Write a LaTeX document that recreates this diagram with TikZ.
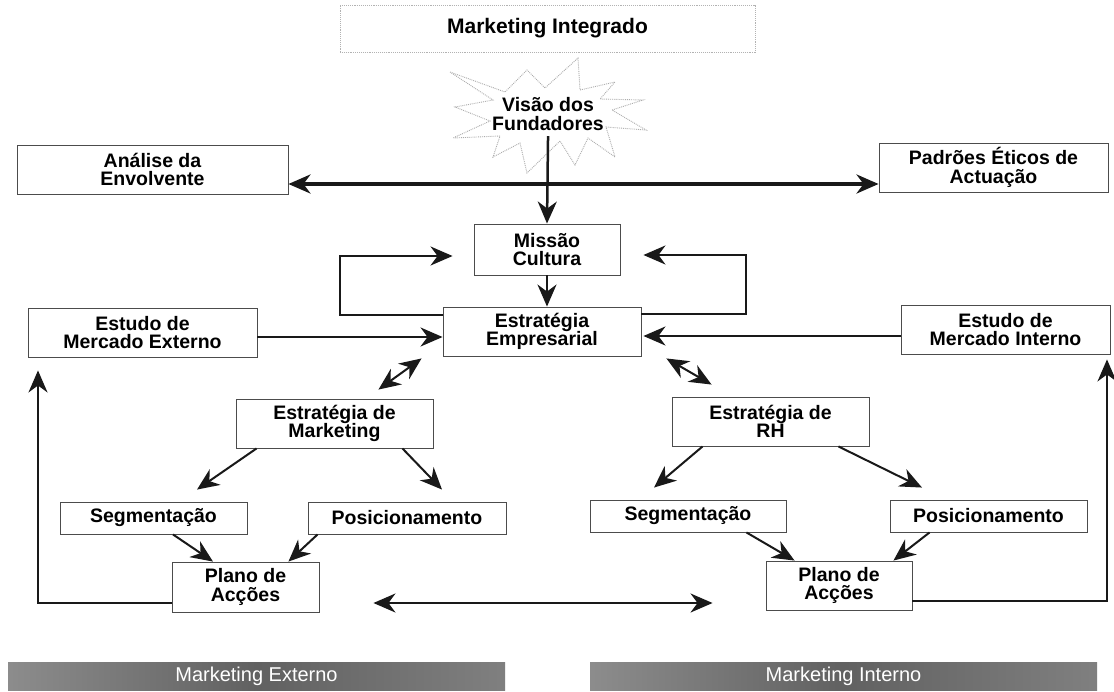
\documentclass[tikz,border=0pt]{standalone}
\usepackage{fontspec}
\setmainfont{Liberation Sans}
\usetikzlibrary{arrows.meta,calc}
\begin{document}
\begin{tikzpicture}[x=1pt,y=-1pt,
  bigtip/.tip={Stealth[length=22pt,width=19pt,inset=7pt]},
  box/.style={draw=black!70, line width=0.9pt, fill=white, inner sep=0pt,
    align=center, font=\bfseries\fontsize{19.5}{18.5}\selectfont},
  conn/.style={draw=black!90, line width=2pt, -bigtip},
  dconn/.style={draw=black!90, line width=2pt, bigtip-bigtip},
  banner/.style={inner sep=0pt, minimum height=28, text=white,
    font=\fontsize{20}{20}\selectfont,
    left color=black!45, right color=black!50, middle color=black!62}
]
\useasboundingbox[fill=white] (0,0) rectangle (1114,691);

% heading
\node[draw=gray!60, densely dotted, line width=0.9pt, minimum width=415,
  minimum height=47, inner sep=0pt, font=\bfseries\fontsize{21}{21}\selectfont]
  (title) at (547.5,28.5) {Marketing Integrado};

% starburst around the founders' vision
\draw[gray!65, densely dotted, line width=0.9pt]
  (450,72) -- (505,92) -- (527,70) -- (545,88) -- (578,58) -- (580,90)
  -- (615,82) -- (600,99) -- (643,100) -- (612,110) -- (646,130)
  -- (606,127) -- (615,157) -- (588,138) -- (575,165) -- (560,141)
  -- (527,173) -- (520,143) -- (493,157) -- (500,136) -- (453,138)
  -- (490,121) -- (455,107) -- (493,100) -- cycle;
\node[inner sep=0pt, minimum height=52, align=center,
  font=\bfseries\fontsize{19.5}{18.5}\selectfont] (vis) at (548,114)
  {Visão dos\\Fundadores};

% boxes
\node[box, minimum width=271, minimum height=49] (ana) at (152.5,169.5) {Análise da\\Envolvente};
\node[box, minimum width=229, minimum height=49] (pad) at (993.5,167.5) {Padrões Éticos de\\Actuação};
\node[box, minimum width=146, minimum height=51] (mis) at (547,249.5) {Missão\\Cultura};
\node[box, minimum width=198, minimum height=49] (emp) at (542,331.5) {Estratégia\\Empresarial};
\node[box, minimum width=229, minimum height=49] (ext) at (142.5,332.5) {Estudo de\\Mercado Externo};
\node[box, minimum width=209, minimum height=49] (int) at (1005.5,329.5) {Estudo de\\Mercado Interno};
\node[box, minimum width=197, minimum height=49] (mkt) at (334.5,423.5) {Estratégia de\\Marketing};
\node[box, minimum width=197, minimum height=49] (rh) at (770.5,421.5) {Estratégia de\\RH};
\node[box, minimum width=187, minimum height=32] (segL) at (153.5,518) {Segmentação};
\node[box, minimum width=198, minimum height=32] (posL) at (407,518) {Posicionamento};
\node[box, minimum width=147, minimum height=50] (plaL) at (245.5,587) {Plano de\\Acções};
\node[box, minimum width=196, minimum height=32] (segR) at (688,516) {Segmentação};
\node[box, minimum width=197, minimum height=32] (posR) at (988.5,516) {Posicionamento};
\node[box, minimum width=146, minimum height=49] (plaR) at (839,585.5) {Plano de\\Acções};

% banners
\node[banner, minimum width=497] (bext) at (256.5,676) {Marketing Externo};
\node[banner, minimum width=507] (bint) at (843.5,676) {Marketing Interno};

% top axis: environment analysis <-> ethical standards, fed by the vision
\draw[draw=black!90, line width=3.5pt, bigtip-bigtip]
  ($(ana.east)+(0,14.5)$) -- ($(pad.west)+(0,16.5)$);
\draw[conn, line width=2.5pt, shorten <=-4pt] (vis.south) -- (mis.north);

% mission -> strategy and the two feedback loops
\draw[conn] (mis.south) -- (mis.south |- emp.north);
\draw[conn, shorten >=21pt] ($(emp.north west)+(0,8)$) -- ++(-103,0)
  |- ($(mis.west)+(0,6.5)$);
\draw[conn, shorten >=23pt] ($(emp.north east)+(0,7)$) -- ++(105,0)
  |- ($(mis.east)+(0,5.5)$);

% market studies -> business strategy
\draw[conn] ($(ext.east)+(0,4.5)$) -- ($(emp.west)+(0,5.5)$);
\draw[conn, shorten >=2pt] ($(int.west)+(0,6.5)$) -- ($(emp.east)+(0,4.5)$);

% business strategy <-> functional strategies
\draw[dconn] ($(emp.south west)+(-21,2)$) -- ($(mkt.north east)+(-55,-9)$);
\draw[dconn] ($(emp.south east)+(25,2)$) -- ($(rh.north west)+(40,-12)$);

% marketing branch
\draw[conn] ($(mkt.south west)+(21,0)$) -- ($(segL.north)+(43.5,-12)$);
\draw[conn] ($(mkt.south east)+(-31,0)$) -- ($(posL.north)+(35,-12)$);
\draw[conn] ($(segL.south)+(19.5,0)$) -- ($(plaL.north)+(-32.5,0)$);
\draw[conn] ($(posL.south west)+(10,0)$) -- ($(plaL.north east)+(-31,0)$);

% human resources branch
\draw[conn] ($(rh.south west)+(31,0)$) -- ($(segR.north)+(-34,-12)$);
\draw[conn] ($(rh.south east)+(-31,0)$) -- ($(posR.north)+(-66.5,-12)$);
\draw[conn] ($(segR.south east)+(-40,0)$) -- ($(plaR.north west)+(29,0)$);
\draw[conn] ($(posR.south west)+(40,0)$) -- ($(plaR.north east)+(-19,0)$);

% action plans: link and return to the market studies
\draw[dconn, shorten <=54pt, shorten >=53pt]
  ($(plaL.east)+(0,16)$) -- ($(plaR.west)+(0,17.5)$);
\draw[conn] ($(plaL.west)+(0,16)$) -| ($(ext.south)+(-104.5,13)$);
\draw[conn] ($(plaR.east)+(0,15.5)$) -| ($(int.south)+(101.5,5)$);
\end{tikzpicture}
\end{document}
